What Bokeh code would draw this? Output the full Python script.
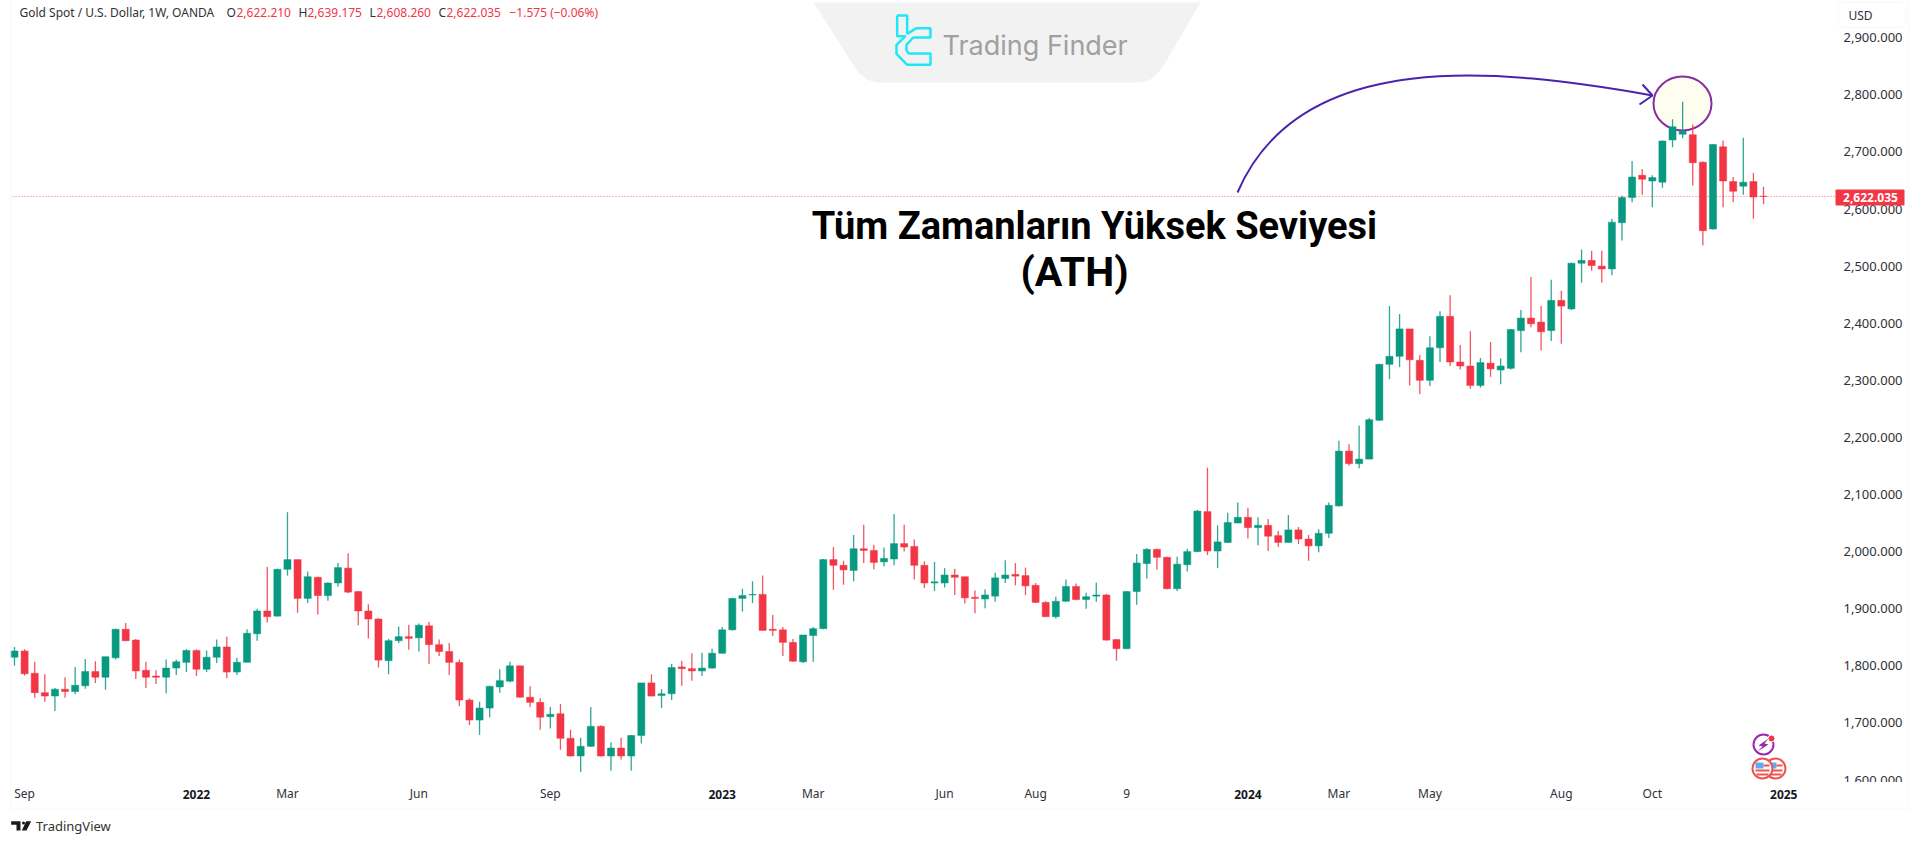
from bokeh.embed import file_html
from bokeh.resources import INLINE
from bokeh.plotting import figure
from bokeh.models import (ColumnDataSource, Range1d, FixedTicker, NumeralTickFormatter, LinearAxis,
                          Label, BoxAnnotation, PolyAnnotation, Span)

open_ = [1815,1826,1787,1753,1747,1759,1755,1765,1790,1780,
 1814,1864,1845,1792,1782,1780,1796,1806,1827,1794,
 1815,1833,1789,1806,1856,1896,1887,1969,1986,1918,
 1955,1923,1945,1971,1930,1896,1882,1809,1844,1851,
 1849,1870,1837,1825,1806,1740,1705,1726,1763,1773,
 1800,1745,1736,1711,1716,1673,1642,1659,1694,1642,
 1656,1642,1678,1770,1748,1751,1798,1795,1791,1796,
 1822,1863,1918,1924,1925,1864,1863,1841,1807,1853,
 1865,1986,1976,1967,2005,2002,1982,1987,2014,2009,
 1976,1945,1945,1959,1956,1920,1917,1922,1953,1960,
 1958,1941,1911,1886,1913,1939,1916,1922,1924,1846,
 1830,1930,1979,2004,1990,1935,1977,2000,2070,2001,
 2016,2050,2060,2042,2046,2028,2016,2038,2022,2010,
 2032,2080,2176,2154,2162,2230,2328,2342,2390,2335,
 2300,2357,2412,2332,2325,2291,2330,2318,2321,2387,
 2409,2402,2387,2440,2425,2505,2510,2500,2495,2576,
 2620,2659,2649,2647,2721,2731,2730,2682,2565,2709,
 2648,2640,2648,2622.21]
high = [1833,1829,1807,1785,1761,1780,1798,1812,1808,1816,
 1865,1875,1847,1807,1792,1811,1811,1829,1829,1827,
 1846,1851,1814,1864,1900,1973,1970,2069,1986,1965,
 1956,1946,1980,1997,1931,1908,1883,1847,1869,1872,
 1874,1877,1846,1840,1811,1743,1737,1765,1794,1807,
 1800,1764,1743,1728,1733,1688,1674,1728,1696,1666,
 1674,1679,1770,1785,1759,1803,1809,1822,1823,1830,
 1868,1919,1935,1948,1958,1889,1868,1847,1854,1868,
 1987,2008,1984,2029,2047,2012,2007,2066,2047,2021,
 1983,1982,1971,1970,1956,1932,1934,1963,1985,1980,
 1972,1945,1913,1921,1951,1944,1928,1946,1926,1847,
 1931,1996,2006,2005,1991,1991,2005,2073,2147,2046,
 2068,2086,2077,2060,2057,2036,2064,2043,2029,2039,
 2086,2194,2188,2221,2234,2329,2430,2416,2390,2344,
 2377,2421,2449,2362,2386,2339,2367,2338,2390,2423,
 2481,2430,2476,2457,2506,2529,2527,2527,2583,2623,
 2684,2670,2659,2720,2757,2788,2748,2683,2714,2720,
 2656,2725,2663,2639.175]
low = [1800,1783,1744,1737,1721,1744,1750,1760,1770,1758,
 1811,1843,1777,1761,1768,1752,1784,1789,1782,1789,
 1805,1778,1784,1806,1844,1876,1886,1958,1893,1910,
 1890,1914,1939,1927,1871,1848,1797,1785,1840,1828,
 1825,1803,1817,1784,1729,1696,1679,1710,1753,1771,
 1744,1728,1688,1690,1653,1641,1614,1658,1641,1616,
 1636,1616,1664,1747,1726,1740,1765,1774,1782,1795,
 1821,1862,1895,1910,1862,1852,1817,1807,1805,1807,
 1864,1933,1942,1948,1980,1969,1974,1976,2000,1951,
 1936,1931,1937,1924,1909,1892,1901,1912,1945,1941,
 1924,1910,1886,1883,1912,1915,1900,1912,1844,1809,
 1829,1907,1953,1968,1934,1931,1965,1999,1994,1971,
 2015,2050,2023,2011,2001,2008,2016,2013,1984,1999,
 2024,2079,2151,2146,2162,2229,2302,2323,2291,2276,
 2290,2332,2325,2319,2285,2287,2306,2293,2319,2349,
 2393,2352,2369,2364,2423,2471,2492,2471,2484,2545,
 2612,2625,2603,2637,2708,2724,2641,2536,2564,2603,
 2612,2625,2583,2608.26]
close = [1826,1786,1753,1747,1759,1755,1766,1790,1780,1816,
 1864,1844,1791,1780,1780,1796,1807,1827,1794,1815,
 1833,1789,1806,1857,1896,1886,1969,1986,1918,1956,
 1923,1945,1972,1929,1896,1882,1810,1844,1851,1848,
 1871,1837,1825,1806,1740,1705,1726,1764,1774,1800,
 1745,1736,1710,1715,1673,1642,1659,1694,1642,1656,
 1642,1678,1770,1747,1751,1797,1795,1791,1796,1822,
 1863,1918,1923,1925,1862,1862,1841,1808,1854,1865,
 1986,1976,1968,2005,2002,1981,1988,2014,2008,1976,
 1945,1947,1959,1955,1919,1918,1924,1954,1959,1957,
 1940,1911,1886,1913,1939,1916,1921,1924,1845,1830,
 1930,1980,2004,1990,1935,1978,2000,2071,2001,2017,
 2051,2060,2042,2046,2027,2016,2038,2022,2010,2032,
 2081,2176,2154,2162,2231,2328,2342,2390,2336,2300,
 2357,2412,2332,2325,2291,2331,2320,2325,2389,2409,
 2399,2385,2440,2430,2505,2510,2501,2495,2577,2620,
 2656,2652,2655,2719,2744,2736,2681,2562,2713,2649,
 2631,2647,2621,2622.035]

price_ticks = [1600,1700,1800,1900,2000,2100,2200,2300,2400,2500,2600,2700,2800,2900]
month_ticks = [1,27,40,53,79,92,101,110,131,140,153,162]
month_labels = ["Sep","Mar","Jun","Sep","Mar","Jun","Aug","9","Mar","May","Aug","Oct"]
year_ticks = [18,70,122,175]
year_labels = ["2022","2023","2024","2025"]
last_price = 2622.035

GREEN = "#089981"; RED = "#F23645"; TEXT = "#2f3136"; FONT = "Noto Sans"

# pixel -> data helpers for decoration placement
PX0, PXS, PY0, PYS = 14.0, 10.11, 94.3, 0.571
def X(px): return (px - PX0) / PXS
def Y(py): return 2800 - (py - PY0) / PYS

W, H = 1920, 842
p = figure(width=W, height=H, output_backend="svg", toolbar_location=None,
           x_range=Range1d(X(0), X(W)), y_range=Range1d(Y(H), Y(0)),
           y_axis_location="right", min_border_left=0, min_border_right=0,
           min_border_top=0, min_border_bottom=0,
           background_fill_color="white", border_fill_color="white")
p.outline_line_color = None
p.grid.visible = False

ya = p.yaxis[0]
ya.ticker = FixedTicker(ticks=price_ticks)
ya.formatter = NumeralTickFormatter(format="0,0.000")
xa = p.xaxis[0]
xa.ticker = FixedTicker(ticks=month_ticks)
xa.major_label_overrides = dict(zip(month_ticks, month_labels))
xb = LinearAxis(ticker=FixedTicker(ticks=year_ticks),
                major_label_overrides=dict(zip(year_ticks, year_labels)))
p.add_layout(xb, "below")
for a, st, fs in ((ya, -83, "13px"), (xa, -64, "12px"), (xb, -59, "12px")):
    a.axis_line_color = None
    a.major_tick_line_color = None
    a.minor_tick_line_color = None
    a.major_label_standoff = st
    a.major_label_text_font = FONT
    a.major_label_text_font_size = fs
    a.major_label_text_color = TEXT
xb.major_label_text_font_style = "bold"
xb.major_label_text_color = "#131722"

# logo panel
px = [813, 1200, 1166, 1158, 1150, 1140, 876, 866, 858, 850]
py = [2, 2, 60, 72, 79, 82, 82, 79, 72, 60]
p.patch([X(v) for v in px], [Y(v) for v in py], fill_color="#f2f2f2", line_color=None)
ic = [(50,30),(80,30),(80,85),(108,68),(150,68),(150,96),(98,96),(78,118),(78,135),(85,144),
      (150,144),(150,178),(80,178),(48,145),(48,118),(75,92),(50,92),(50,30)]
p.line([X(880+a/3) for a, b in ic], [Y(5+b/3) for a, b in ic], line_color="#1fe8f5", line_width=2.5)
p.text([X(942)], [Y(45)], text=["Trading Finder"], text_font={"value": "Inter"}, text_font_size={"value": "27px"},
       text_color="#a0a0a0", text_baseline="middle", text_align="left")

# last price
p.line([X(12), X(1835)], [last_price, last_price], line_color=RED, line_width=1, line_dash="1 2", line_alpha=0.75)

# circle & arrow
p.ellipse([X(1682)], [Y(103)], width=58/PXS, height=54/PYS, fill_color="#fefef0",
          line_color="#8a2aa5", line_width=2)
p.bezier(x0=[X(1237)], y0=[Y(192)], x1=[X(1652)], y1=[Y(95)], cx0=[X(1300)], cy0=[Y(45)],
         cx1=[X(1500)], cy1=[Y(68)], line_color="#4a22b0", line_width=2)
p.line([X(1642), X(1652), X(1639)], [Y(84), Y(95), Y(104)], line_color="#4a22b0", line_width=2)

# candles
idx = list(range(len(close)))
colors = [GREEN if c >= o else RED for o, c in zip(open_, close)]
src = ColumnDataSource(dict(x=idx, o=open_, h=high, l=low, c=close, color=colors))
p.segment("x", "h", "x", "l", source=src, line_color="color", line_width=1.3, line_alpha=0.85)
p.vbar("x", top="o", bottom="c", width=0.7, source=src, fill_color="color", line_color="color", line_width=0.5)

# event icons
p.scatter([X(1763)], [Y(744)], size=20, marker="circle", fill_color="white", line_color="#9c27b0", line_width=2)
p.scatter([X(1771)], [Y(738)], size=7, marker="circle", fill_color=RED, line_color="white", line_width=1)
bolt = [(1768,738),(1758,745),(1762,746),(1757,751),(1768,744),(1764,743)]
p.patch([X(a) for a, b in bolt], [Y(b) for a, b in bolt], fill_color="#9c27b0", line_color=None)
for cx in (1775, 1762):
    p.scatter([X(cx)], [Y(768)], size=20, marker="circle", fill_color="white", line_color="#ef5350", line_width=2)
    p.quad(left=[X(cx-7)], right=[X(cx+1)], top=[Y(762)], bottom=[Y(768)], fill_color="#64a8f0", line_color=None)
    p.quad(left=[X(cx+1), X(cx-7), X(cx-6)], right=[X(cx+7), X(cx+7), X(cx+6)],
           top=[Y(764), Y(769), Y(773)], bottom=[Y(766), Y(771), Y(775)], fill_color="#ef5350", line_color=None)

def label(px_, py_, txt, color=TEXT, size="12px", style="normal", align="left", font=FONT):
    p.add_layout(Label(x=px_, y=py_, x_units="canvas", y_units="canvas", text=txt, text_color=color,
                       text_font_size=size, text_font_style=style, text_align=align,
                       text_baseline="middle", text_font=font))

def box(l, r, t, b, **kw):
    p.add_layout(BoxAnnotation(left=l, right=r, top=t, bottom=b, left_units="canvas", right_units="canvas",
                               top_units="canvas", bottom_units="canvas", **kw))

# chart frame
box(10.5, 1908, -6, 808, fill_alpha=0, line_color="#eff1f5", line_width=2)
# price scale clipped at the bottom
box(1840, 1906, 781.5, 792, fill_color="white", fill_alpha=1, line_color=None)
# USD box
box(1838, 1905, 2, 27, fill_color="white", fill_alpha=1, line_color="#e6e8ee", line_width=1, border_radius=4)
label(1848, 15, "USD")
# last price tag
box(1835, 1904, 189, 205, fill_color=RED, fill_alpha=1, line_color=None, border_radius=1)
label(1870, 197, "2,622.035", color="white", align="center", style="bold")

# header
label(19, 12, "Gold Spot / U.S. Dollar, 1W, OANDA")
for (a, b, xa_, xb_) in [("O", "2,622.210", 226, 236), ("H", "2,639.175", 298, 307),
                         ("L", "2,608.260", 369, 376), ("C", "2,622.035", 438, 446)]:
    label(xa_, 12, a)
    label(xb_, 12, b, color=RED)
label(509, 12, "\u22121.575 (\u22120.06%)", color=RED)

# annotation text
label(1094, 225.5, "T\u00fcm Zamanlar\u0131n Y\u00fcksek Seviyesi", color="#000000", size="38px", style="bold",
      align="center", font="Roboto")
label(1074, 271, "(ATH)", color="#000000", size="41px", style="bold", align="center", font="Roboto")

# TradingView mark
tvT = [(32,47),(60,47),(60,75),(48,75),(48,58),(32,58)]
tvS = [(92,47),(78,75),(64,75),(77,47)]
for shp in (tvT, tvS):
    p.add_layout(PolyAnnotation(xs=[a/3 for a, b in shp], ys=[805+b/3 for a, b in shp], xs_units="canvas",
                                ys_units="canvas", fill_color="#1a1a1a", fill_alpha=1, line_color=None))
box(21.5, 24.5, 821, 824, fill_color="#1a1a1a", fill_alpha=1, line_color=None, border_radius=2)
label(35.5, 825.7, "TradingView", color="#333333", size="13px")

open("out.html", "w").write(file_html(p, INLINE))
